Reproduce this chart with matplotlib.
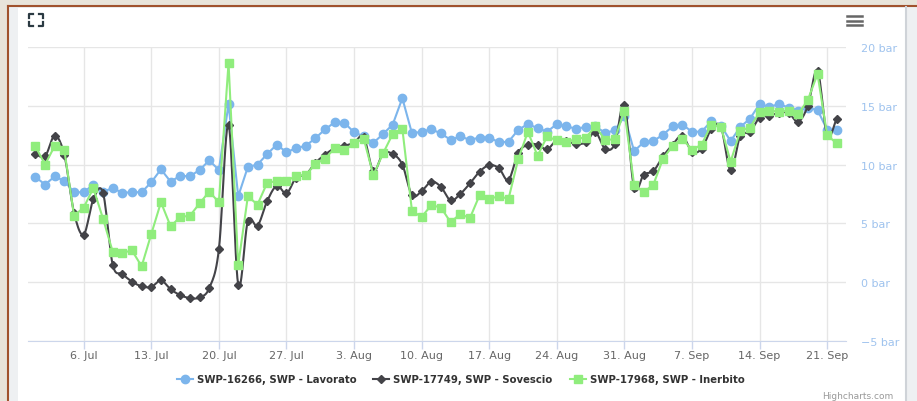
import numpy as np
import pandas as pd
import matplotlib
matplotlib.use("Agg")
import matplotlib.pyplot as plt
import matplotlib.dates as mdates
from matplotlib.lines import Line2D
from matplotlib.patches import Rectangle

# Data (daily soil water potential, bar)
start_date = "2020-07-01"
n_days = 84

swp_lavorato = [
    8.95, 8.3, 9.0, 8.6, 7.65, 7.65, 8.3, 7.7, 8.0, 7.6, 7.65, 7.65, 8.5, 9.6, 8.55, 9.05,
    9.0, 9.55, 10.35, 9.55, 15.15, 7.3, 9.8, 10.0, 10.9, 11.7, 11.05, 11.4, 11.6, 12.25, 13.0,
    13.6, 13.55, 12.75, 12.4, 11.85, 12.6, 13.4, 15.65, 12.65, 12.8, 13.0, 12.65, 12.1, 12.4,
    12.1, 12.3, 12.3, 11.9, 11.95, 12.95, 13.45, 13.1, 12.8, 13.45, 13.25, 13.05, 13.2, 13.25,
    12.7, 12.9, 14.1,
    11.15, 11.9, 12.0, 12.55, 13.25, 13.4, 12.8, 12.8, 13.7, 13.3, 12.0, 13.2, 13.9, 15.15,
    14.9, 15.15, 14.85, 14.6, 14.8, 14.65, 12.95, 12.9,
]
swp_sovescio = [
    10.9, 10.7, 12.45, 10.8, 5.9, 4.05, 7.05, 7.6, 1.5, 0.7, 0.05, -0.35, -0.4, 0.15, -0.6,
    -1.1, -1.35, -1.3, -0.5, 2.8, 13.4, -0.2, 5.2, 4.8, 6.9, 8.2, 7.55, 8.9, 9.15, 10.15, 10.85,
    11.4, 11.6, 11.85, 12.35, 9.45, 10.95, 10.9, 10.0, 7.4, 7.75, 8.55, 8.1, 6.95, 7.5, 8.4,
    9.4, 9.95, 9.7, 8.7, 11.0, 11.7, 11.7, 11.3, 12.1, 12.0, 11.75, 11.9, 12.75, 11.35, 11.75,
    15.1,
    8.05, 9.15, 9.45, 10.7, 11.7, 12.45, 11.1, 11.35, 13.0, 13.2, 9.5, 12.45, 12.75, 14.0,
    14.15, 14.4, 14.4, 13.65, 15.0, 18.0, 12.5, 13.9,
]
swp_inerbito = [
    11.55, 10.0, 11.6, 11.2, 5.65, 6.35, 8.0, 5.4, 2.6, 2.5, 2.7, 1.35, 4.1, 6.8, 4.75, 5.55,
    5.65, 6.7, 7.7, 6.8, 18.65, 1.45, 7.3, 6.6, 8.45, 8.6, 8.6, 9.05, 9.1, 10.05, 10.5,
    11.4, 11.2, 11.8, 12.2, 9.1, 10.95, 12.6, 13.05, 6.05, 5.55, 6.55, 6.35, 5.1, 5.8, 5.45,
    7.4, 7.1, 7.3, 7.1, 10.45, 12.8, 10.75, 12.4, 12.05, 11.9, 12.2, 12.3, 13.25, 12.1, 12.15,
    14.6,
    8.3, 7.65, 8.3, 10.5, 11.6, 12.2, 11.25, 11.7, 13.4, 13.2, 10.25, 12.85, 13.15, 14.45,
    14.6, 14.5, 14.6, 14.3, 15.5, 17.7, 12.5, 11.8,
]
series_names = ["SWP-16266, SWP - Lavorato", "SWP-17749, SWP - Sovescio", "SWP-17968, SWP - Inerbito"]
y_ticks = [-5, 0, 5, 10, 15, 20]

BLUE = "#7cb5ec"
DARK = "#434348"
GREEN = "#90ed7d"


def catmull_rom(x, y, steps=12):
    # smooth curve through the points (Highcharts "spline" look)
    x = np.asarray(x, float)
    y = np.asarray(y, float)
    px = np.concatenate([[2 * x[0] - x[1]], x, [2 * x[-1] - x[-2]]])
    py = np.concatenate([[2 * y[0] - y[1]], y, [2 * y[-1] - y[-2]]])
    t = np.linspace(0, 1, steps, endpoint=False)
    xs, ys = [], []
    for i in range(1, len(px) - 2):
        for p, out in ((px, xs), (py, ys)):
            p0, p1, p2, p3 = p[i - 1], p[i], p[i + 1], p[i + 2]
            out.append(0.5 * (2 * p1 + (-p0 + p2) * t + (2 * p0 - 5 * p1 + 4 * p2 - p3) * t ** 2
                              + (-p0 + 3 * p1 - 3 * p2 + p3) * t ** 3))
    xs.append([x[-1]])
    ys.append([y[-1]])
    return np.concatenate(xs), np.concatenate(ys)


dates = pd.date_range(start_date, periods=n_days)
xd = mdates.date2num(dates.to_pydatetime())

fig = plt.figure(figsize=(9.17, 4.02), dpi=100)
fig.patch.set_facecolor("#e8e4da")

W, H = 917.0, 402.0
def fx(px):
    return px / W
def fy(py):
    return 1 - py / H

# page frame around the chart
fig.patches.append(Rectangle((fx(8), 0), fx(909), fy(8), transform=fig.transFigure,
                             facecolor="#eef0f2", edgecolor="none", zorder=-2))
fig.patches.append(Rectangle((fx(18), 0), fx(887), fy(9), transform=fig.transFigure,
                             facecolor="white", edgecolor="none", zorder=-1))
fig.lines.append(Line2D([fx(8), 1], [fy(7), fy(7)], transform=fig.transFigure, color="#a0522d", lw=1.5))
fig.lines.append(Line2D([fx(8), fx(8)], [0, fy(7)], transform=fig.transFigure, color="#a0522d", lw=1.5))
fig.lines.append(Line2D([fx(906), fx(906)], [0, fy(8)], transform=fig.transFigure, color="#cfd3d8", lw=1.5))

ax = fig.add_axes([fx(28), fy(342), fx(846) - fx(28), fy(48) - fy(342)])
ax.set_facecolor("none")
ax.set_zorder(2)

ax.plot(xd, swp_lavorato, color=BLUE, lw=1.5, marker="o", ms=6, mec=BLUE, zorder=3)
sx, sy = catmull_rom(xd, swp_sovescio)
ax.plot(sx, sy, color=DARK, lw=1.5, zorder=4)
ax.plot(xd, swp_sovescio, ls="none", color=DARK, marker="D", ms=4, zorder=4)
ax.plot(xd, swp_inerbito, color=GREEN, lw=1.5, marker="s", ms=6, mec=GREEN, zorder=5)

ax.set_ylim(-5, 20)
ax.set_xlim(xd[0] - 0.77, xd[-1] + 0.95)
ax.set_yticks(y_ticks)
ax.set_yticklabels([f"{v} bar".replace("-", "\u2212") for v in y_ticks])
ax.yaxis.tick_right()
ax.tick_params(axis="y", length=0, pad=11, labelsize=8, labelcolor="#9fc3ee")

ax.xaxis.set_major_locator(mdates.WeekdayLocator(byweekday=mdates.MO))
ax.xaxis.set_major_formatter(plt.FuncFormatter(
    lambda v, pos: f"{mdates.num2date(v).day}. {mdates.num2date(v).strftime('%b')}"))
ax.tick_params(axis="x", length=6, width=1, color="#ccd6eb", pad=0.5, labelsize=8, labelcolor="#666666")

ax.grid(True, color="#e6e6e6", lw=1)
ax.set_axisbelow(True)
for side in ["top", "left", "right"]:
    ax.spines[side].set_visible(False)
ax.spines["bottom"].set_color("#ccd6eb")

# legend, laid out like the Highcharts one
legend_y = fy(380)
for x0, color, marker, ms, name in [(177, BLUE, "o", 6, series_names[0]),
                                    (373, DARK, "D", 4, series_names[1]),
                                    (570, GREEN, "s", 6, series_names[2])]:
    fig.lines.append(Line2D([fx(x0), fx(x0 + 16)], [legend_y, legend_y], transform=fig.transFigure,
                            color=color, lw=1.5))
    fig.lines.append(Line2D([fx(x0 + 8)], [legend_y], transform=fig.transFigure, color=color,
                            marker=marker, ms=ms, ls="none"))
    fig.text(fx(x0 + 20), legend_y, name, fontsize=7.3, fontweight="bold", color="#333333",
             va="center", ha="left")

fig.text(fx(893), fy(397), "Highcharts.com", fontsize=6.5, color="#999999", ha="right", va="center")

# fullscreen icon (top left)
c = "#2b3a42"
for (x0, y0, dx, dy) in [(29, 15, 1, 1), (43, 15, -1, 1), (29, 27, 1, -1), (43, 27, -1, -1)]:
    fig.lines.append(Line2D([fx(x0 + 4 * dx), fx(x0), fx(x0)], [fy(y0), fy(y0), fy(y0 + 4 * dy)],
                            transform=fig.transFigure, color=c, lw=1.6))
# menu icon (top right)
for yy in [17, 21.5, 26]:
    fig.lines.append(Line2D([fx(847), fx(862)], [fy(yy), fy(yy)], transform=fig.transFigure,
                            color="#666666", lw=1.8))

fig.savefig("out.png", dpi=100, facecolor=fig.get_facecolor())
